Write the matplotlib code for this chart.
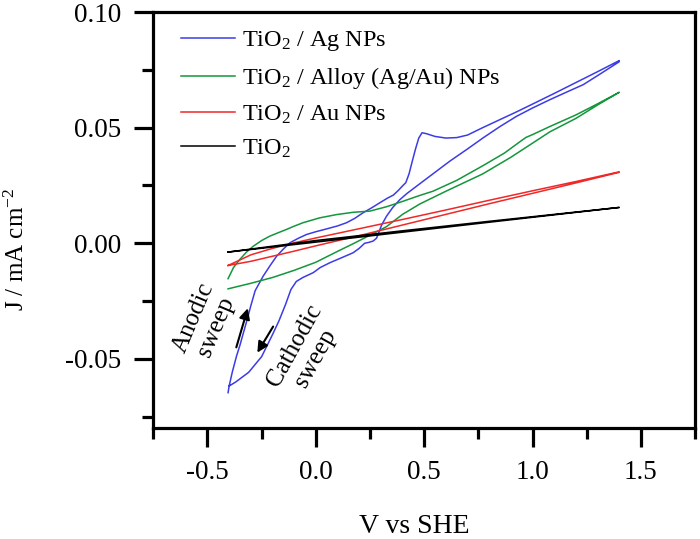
import matplotlib
matplotlib.use("Agg")
import matplotlib.pyplot as plt
from matplotlib.ticker import MultipleLocator

plt.rcParams['font.family'] = ['Liberation Serif', 'DejaVu Serif']
plt.rcParams['mathtext.fontset'] = 'custom'
plt.rcParams['mathtext.rm'] = 'Liberation Serif'
plt.rcParams['mathtext.it'] = 'Liberation Serif:italic'
plt.rcParams['mathtext.default'] = 'regular'

# TiO2 / Ag NPs  (anodic sweep, then cathodic sweep)
ag_v_an = [-0.405, -0.40, -0.385, -0.366, -0.35, -0.32, -0.30, -0.28, -0.243, -0.21, -0.181,
           -0.15, -0.12, -0.08, -0.043, 0.0, 0.049, 0.10, 0.142, 0.18, 0.218, 0.257, 0.295,
           0.33, 0.357, 0.38, 0.40, 0.415, 0.43, 0.445, 0.46, 0.475, 0.49, 0.51, 0.55,
           0.60, 0.65, 0.70, 0.77, 0.85, 0.93, 1.0, 1.1, 1.2, 1.3, 1.4]
ag_j_an = [-0.0646, -0.0617, -0.0555, -0.0488, -0.0440, -0.0340, -0.0270, -0.0205, -0.0142,
           -0.0095, -0.0056, -0.0025, 0.0002, 0.0022, 0.0038, 0.0050, 0.0062, 0.0075, 0.0089,
           0.0108, 0.0132, 0.0153, 0.0175, 0.0195, 0.0208, 0.0228, 0.0248, 0.0262, 0.0300,
           0.0355, 0.0408, 0.0455, 0.0478, 0.0474, 0.0462, 0.0455, 0.0457, 0.0468, 0.0500,
           0.0535, 0.0570, 0.0602, 0.0648, 0.0695, 0.0742, 0.0790]
ag_v_ca = [1.4, 1.3, 1.234, 1.16, 1.08, 1.0, 0.926, 0.85, 0.772, 0.70, 0.618, 0.54, 0.465,
           0.42, 0.388, 0.355, 0.326, 0.303, 0.290, 0.280, 0.265, 0.245, 0.225, 0.20, 0.172,
           0.12, 0.065, 0.02, -0.012, -0.06, -0.09, -0.115, -0.14, -0.17, -0.20, -0.25,
           -0.31, -0.37, -0.40]
ag_j_ca = [0.0785, 0.0725, 0.0686, 0.0655, 0.0621, 0.0585, 0.0549, 0.0505, 0.0456, 0.0408,
           0.0355, 0.0300, 0.0247, 0.0215, 0.0189, 0.0155, 0.0117, 0.0078, 0.0045, 0.0022,
           0.0010, 0.0004, 0.0000, -0.0022, -0.0041, -0.0062, -0.0084, -0.0105, -0.0127,
           -0.0148, -0.0165, -0.0200, -0.0265, -0.0335, -0.0395, -0.0490, -0.0558, -0.0600,
           -0.0617]

# TiO2 / Alloy (Ag/Au) NPs
al_v_up = [-0.405, -0.38, -0.351, -0.32, -0.289, -0.25, -0.212, -0.17, -0.135, -0.10, -0.059,
           0.018, 0.095, 0.172, 0.249, 0.326, 0.403, 0.48, 0.54, 0.65, 0.77, 0.87, 0.94, 0.97,
           1.0, 1.08, 1.2, 1.3, 1.4]
al_j_up = [-0.0153, -0.0105, -0.0070, -0.0038, -0.0013, 0.0012, 0.0031, 0.0047, 0.0060,
           0.0074, 0.0089, 0.0110, 0.0124, 0.0134, 0.0139, 0.0158, 0.0182, 0.0207, 0.0225,
           0.0272, 0.0335, 0.0390, 0.0438, 0.0458, 0.0470, 0.0505, 0.0555, 0.0603, 0.0653]
al_v_lo = [-0.405, -0.3, -0.2, -0.1, 0.0, 0.1, 0.172, 0.25, 0.326, 0.4, 0.48, 0.6, 0.77,
           0.9, 1.08, 1.2, 1.3, 1.4]
al_j_lo = [-0.0197, -0.0173, -0.0148, -0.0117, -0.0082, -0.0035, -0.0002, 0.0035, 0.0072,
           0.0125, 0.0170, 0.0225, 0.0300, 0.0372, 0.0482, 0.0540, 0.0598, 0.0653]

# TiO2 / Au NPs
au_v_lo = [-0.405, -0.3, -0.2, -0.1, 0.0, 0.2, 0.4, 0.6, 0.8, 1.0, 1.2, 1.4]
au_j_lo = [-0.0096, -0.0078, -0.0056, -0.0034, -0.0011, 0.0033, 0.0079, 0.0125, 0.0171,
           0.0216, 0.0261, 0.0307]
au_v_up = [-0.405, -0.35, -0.3, -0.2, -0.1, 0.0, 0.2, 0.4, 0.6, 0.8, 1.0, 1.2, 1.4]
au_j_up = [-0.0096, -0.0072, -0.0050, -0.0022, 0.0002, 0.0023, 0.0063, 0.0103, 0.0144,
           0.0186, 0.0227, 0.0267, 0.0309]

# TiO2
ti_v = [-0.405, 0.0, 0.4, 0.8, 1.4]
ti_j_lo = [-0.0038, 0.0005, 0.0048, 0.0091, 0.0155]
ti_j_up = [-0.0038, 0.0012, 0.0054, 0.0095, 0.0155]

labels = ["TiO$_2$ / Ag NPs", "TiO$_2$ / Alloy (Ag/Au) NPs", "TiO$_2$ / Au NPs", "TiO$_2$"]
colors = ["#3c3ce6", "#14963c", "#f02828", "#000000"]

fig = plt.figure(figsize=(7, 5.39), dpi=100)
ax = fig.add_axes([0.219, 0.2054, 0.774, 0.7723])

lw = 1.1
ax.plot(ag_v_an + ag_v_ca, ag_j_an + ag_j_ca, color=colors[0], lw=lw, label=labels[0])
ax.plot(al_v_up + al_v_lo[::-1], al_j_up + al_j_lo[::-1], color=colors[1], lw=lw, label=labels[1])
ax.plot(au_v_lo + au_v_up[::-1], au_j_lo + au_j_up[::-1], color=colors[2], lw=lw, label=labels[2])
ax.plot(ti_v + ti_v[::-1], ti_j_lo + ti_j_up[::-1], color=colors[3], lw=lw, label=labels[3])

ax.set_xlim(-0.75, 1.75)
ax.set_ylim(-0.08, 0.10)
ax.xaxis.set_major_locator(MultipleLocator(0.5))
ax.xaxis.set_minor_locator(MultipleLocator(0.25))
ax.yaxis.set_major_locator(MultipleLocator(0.05))
ax.yaxis.set_minor_locator(MultipleLocator(0.025))
ax.xaxis.set_major_formatter(plt.FuncFormatter(lambda v, p: "%.1f" % v))
ax.yaxis.set_major_formatter(plt.FuncFormatter(lambda v, p: "%.2f" % v))

for s in ax.spines.values():
    s.set_linewidth(2.3)
ax.tick_params(which='major', direction='out', length=14, width=2.3, labelsize=19.5, pad=9)
ax.tick_params(which='minor', direction='out', length=8, width=2.3)
ax.tick_params(top=False, right=False, which='both')

ax.set_xlabel("V vs SHE", fontsize=20)
ax.xaxis.set_label_coords(0.482, -0.205)
ax.set_ylabel("J / mA cm$^{-2}$", fontsize=18)
ax.yaxis.set_label_coords(-0.23, 0.43)

leg = ax.legend(loc='upper left', bbox_to_anchor=(0.02, 1.0), frameon=False, fontsize=17.5,
                handlelength=2.2, handletextpad=0.3, labelspacing=0.5, borderpad=0.2)

# sweep direction annotations
ax.annotate("", xy=(-0.314, -0.0281), xytext=(-0.367, -0.045),
            arrowprops=dict(arrowstyle='-|>', color='k', lw=1.5, mutation_scale=16,
                            shrinkA=0, shrinkB=0))
ax.annotate("", xy=(-0.27, -0.0473), xytext=(-0.197, -0.036),
            arrowprops=dict(arrowstyle='-|>', color='k', lw=1.5, mutation_scale=16,
                            shrinkA=0, shrinkB=0))
ax.text(-0.512, -0.0341, "Anodic\nsweep", rotation=67, fontsize=18, ha='center', va='center',
        multialignment='center', rotation_mode='anchor', linespacing=1.15)
ax.text(-0.05, -0.047, "Cathodic\nsweep", rotation=61, fontsize=18, ha='center', va='center',
        multialignment='center', rotation_mode='anchor', linespacing=1.15)

fig.savefig("out.png", dpi=100)
